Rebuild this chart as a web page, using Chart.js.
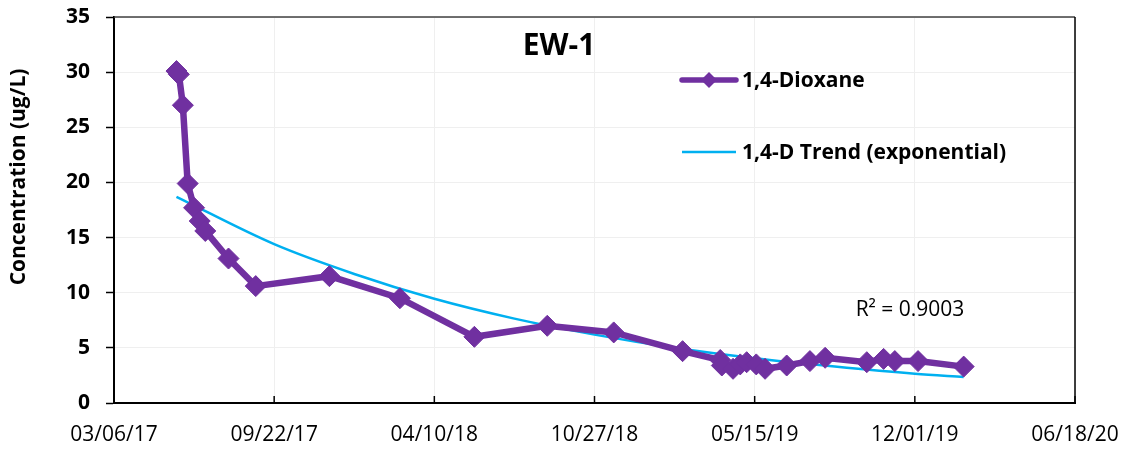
<!DOCTYPE html>
<html>
<head>
<meta charset="utf-8">
<script src="https://cdn.jsdelivr.net/npm/chart.js@4.4.1/dist/chart.umd.min.js"></script>
<style>
  html, body { margin: 0; padding: 0; background: #fff; }
  #wrap { width: 1124px; height: 451px; }
</style>
</head>
<body>
<div id="wrap"><canvas id="chart" width="1124" height="451"></canvas></div>
<script>
// sample dates and 1,4-dioxane concentrations (ug/L)
const sampleDates = [
    "2017-05-23", "2017-05-26", "2017-05-31", "2017-06-06", "2017-06-14",
    "2017-06-21", "2017-06-28", "2017-07-27", "2017-08-30", "2017-11-30",
    "2018-02-26", "2018-05-30", "2018-08-29", "2018-11-20", "2019-02-14",
    "2019-04-02", "2019-04-04", "2019-04-18", "2019-04-27", "2019-05-05",
    "2019-05-17", "2019-05-28", "2019-06-24", "2019-07-23", "2019-08-11",
    "2019-10-02", "2019-10-23", "2019-11-06", "2019-12-05", "2020-01-31"
];
const dioxane = [
    30.1, 29.8, 27.0, 19.9, 17.7,
    16.5, 15.6, 13.1, 10.6, 11.5,
    9.5, 6.0, 7.0, 6.4, 4.7,
    3.9, 3.4, 3.1, 3.5, 3.7,
    3.5, 3.1, 3.4, 3.8, 4.1,
    3.7, 4.0, 3.8, 3.8, 3.3
];

// exponential trend line
const trendDates = [
    "2017-05-23", "2017-09-22", "2017-12-31", "2018-04-10", "2018-07-19",
    "2018-10-27", "2019-02-04", "2019-05-15", "2019-08-23", "2019-12-01", "2020-01-31"
];
const trendValues = [18.7, 14.4, 11.7, 9.45, 7.65, 6.2, 5.0, 4.05, 3.3, 2.65, 2.35];

const yTicks = [0, 5, 10, 15, 20, 25, 30, 35];
const xStart = "2017-03-06";
const xEnd = "2020-06-18";
const xStepDays = 200;

const DAY = 86400000;
function toMs(s) {
    const p = s.split("-");
    return Date.UTC(+p[0], +p[1] - 1, +p[2]);
}
const t0 = toMs(xStart);
function toDay(s) {
    return Math.round((toMs(s) - t0) / DAY);
}
function fmtDay(v) {
    const d = new Date(t0 + v * DAY);
    const mm = String(d.getUTCMonth() + 1).padStart(2, "0");
    const dd = String(d.getUTCDate()).padStart(2, "0");
    const yy = String(d.getUTCFullYear() % 100).padStart(2, "0");
    return mm + "/" + dd + "/" + yy;
}

const FONT = "'Open Sans', 'Liberation Sans', sans-serif";
const PURPLE = "#7030A0";
const CYAN = "#00B0F0";

const extras = {
    id: "extras",
    afterDraw(chart) {
        const ctx = chart.ctx;
        const a = chart.chartArea;
        const xs = chart.scales.x;
        ctx.save();
        // plot area border top / right
        ctx.strokeStyle = "#404040";
        ctx.lineWidth = 1.5;
        ctx.beginPath();
        ctx.moveTo(a.left, a.top);
        ctx.lineTo(a.right, a.top);
        ctx.stroke();
        ctx.strokeStyle = "#000";
        ctx.beginPath();
        ctx.moveTo(a.right, a.top);
        ctx.lineTo(a.right, a.bottom);
        ctx.stroke();

        // inward tick marks on x axis
        ctx.lineWidth = 1.5;
        xs.ticks.forEach(t => {
            const px = xs.getPixelForValue(t.value);
            ctx.beginPath();
            ctx.moveTo(px, a.bottom);
            ctx.lineTo(px, a.bottom - 7);
            ctx.stroke();
        });

        // title
        ctx.fillStyle = "#000";
        ctx.font = "bold 30px " + FONT;
        ctx.textAlign = "center";
        ctx.textBaseline = "middle";
        ctx.fillText("EW-1", 559, 46);

        // legend
        ctx.textAlign = "left";
        ctx.font = "bold 21px " + FONT;
        ctx.strokeStyle = PURPLE;
        ctx.lineWidth = 5.5;
        ctx.lineCap = "round";
        ctx.beginPath();
        ctx.moveTo(682, 80);
        ctx.lineTo(736, 80);
        ctx.stroke();
        ctx.fillStyle = PURPLE;
        ctx.beginPath();
        ctx.moveTo(709, 72);
        ctx.lineTo(717, 80);
        ctx.lineTo(709, 88);
        ctx.lineTo(701, 80);
        ctx.closePath();
        ctx.fill();
        ctx.fillStyle = "#000";
        ctx.fillText("1,4-Dioxane", 742, 81);

        ctx.strokeStyle = CYAN;
        ctx.lineWidth = 2.5;
        ctx.lineCap = "butt";
        ctx.beginPath();
        ctx.moveTo(682, 152);
        ctx.lineTo(736, 152);
        ctx.stroke();
        ctx.fillText("1,4-D Trend (exponential)", 742, 153);

        // R squared
        ctx.font = "21px " + FONT;
        ctx.textAlign = "center";
        ctx.fillText("R\u00B2 = 0.9003", 910, 310);

        // y axis title
        ctx.font = "bold 21px " + FONT;
        ctx.translate(19, 177);
        ctx.rotate(-Math.PI / 2);
        ctx.fillText("Concentration (ug/L)", 0, 0);
        ctx.restore();
    }
};

function start() {
    const ctx = document.getElementById("chart").getContext("2d");
    new Chart(ctx, {
        type: "line",
        data: {
            datasets: [
                {
                    label: "1,4-D Trend (exponential)",
                    data: trendDates.map((d, i) => ({ x: toDay(d), y: trendValues[i] })),
                    borderColor: CYAN,
                    borderWidth: 2.5,
                    pointRadius: 0,
                    cubicInterpolationMode: "monotone",
                    order: 2
                },
                {
                    label: "1,4-Dioxane",
                    data: sampleDates.map((d, i) => ({ x: toDay(d), y: dioxane[i] })),
                    borderColor: PURPLE,
                    backgroundColor: PURPLE,
                    borderWidth: 6.5,
                    pointStyle: "rectRot",
                    pointRadius: 10.5,
                    pointBorderWidth: 1,
                    pointBorderColor: PURPLE,
                    pointBackgroundColor: PURPLE,
                    order: 1
                }
            ]
        },
        options: {
            responsive: false,
            animation: false,
            layout: { padding: { left: 0, right: 49, top: 17, bottom: 0 } },
            plugins: {
                legend: { display: false },
                tooltip: { enabled: false }
            },
            scales: {
                x: {
                    type: "linear",
                    min: 0,
                    max: toDay(xEnd),
                    afterFit(scale) {
                        scale.height = 48;
                        scale.paddingLeft = 0;
                        scale.paddingRight = 0;
                    },
                    ticks: {
                        stepSize: xStepDays,
                        callback: v => fmtDay(v),
                        color: "#000",
                        font: { family: FONT, size: 21 },
                        padding: 19,
                        maxRotation: 0,
                        autoSkip: false
                    },
                    grid: { color: "#EFEFEF", lineWidth: 1, drawTicks: false },
                    border: { color: "#000", width: 2 }
                },
                y: {
                    min: yTicks[0],
                    max: yTicks[yTicks.length - 1],
                    afterFit(scale) {
                        scale.width = 114;
                        scale.paddingTop = 0;
                        scale.paddingBottom = 0;
                    },
                    afterBuildTicks(scale) { scale.ticks = yTicks.map(v => ({ value: v })); },
                    ticks: {
                        color: "#000",
                        font: { family: FONT, size: 21, weight: "bold" },
                        padding: 16
                    },
                    grid: { color: "#EFEFEF", lineWidth: 1, tickLength: 8, tickColor: "#000", tickWidth: 1.5 },
                    border: { color: "#000", width: 2 }
                }
            }
        },
        plugins: [extras]
    });
}

window.addEventListener("load", start, false);
</script>
</body>
</html>
